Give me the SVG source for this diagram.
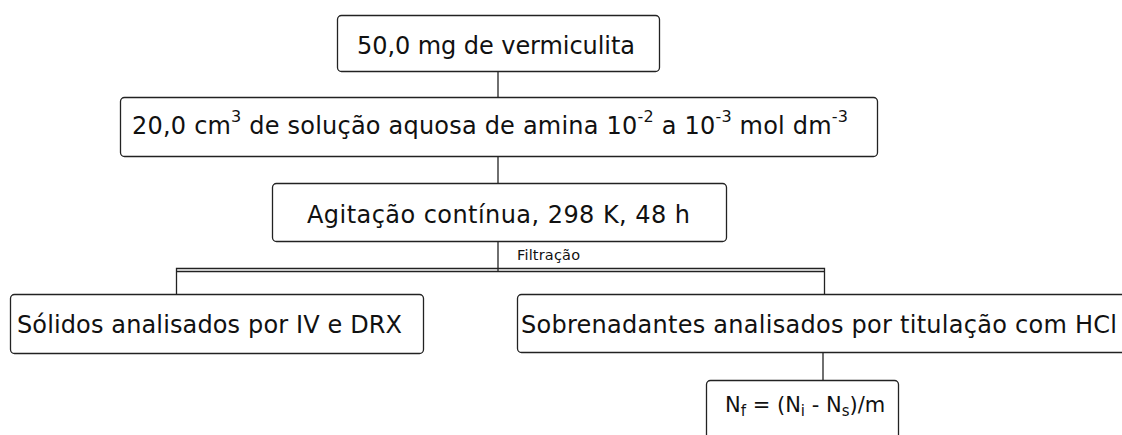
<svg xmlns="http://www.w3.org/2000/svg" width="1122" height="435" viewBox="0 0 1122 435">
<style>
.box{fill:#fff;stroke:#222;stroke-width:1.3}
.t{font-family:"DejaVu Sans",Verdana,sans-serif;font-size:24px;fill:#111}
.sm{font-family:"DejaVu Sans",Verdana,sans-serif;font-size:14.5px;fill:#111}
.nf{font-family:"DejaVu Sans",Verdana,sans-serif;font-size:21px;fill:#111}
.ln{stroke:#222;stroke-width:1.3;fill:none}
</style>
<rect width="1122" height="435" fill="#fff"/>
<g id="connectors">
<line class="ln" x1="498" y1="72" x2="498" y2="97"/>
<line class="ln" x1="498" y1="157" x2="498" y2="183"/>
<line class="ln" x1="498" y1="242" x2="498" y2="271"/>
<path class="ln" d="M176.5,294 V268.5 H824.5 V294"/>
<line class="ln" x1="176.5" y1="271.5" x2="824.5" y2="271.5"/>
<line class="ln" x1="823" y1="353" x2="823" y2="380"/>
<text class="sm" x="517" y="260" textLength="63" lengthAdjust="spacing">Filtração</text>
</g>
<g id="n1">
<rect class="box" x="337.5" y="15.5" width="322" height="56" rx="4"/>
<text class="t" x="357" y="54" textLength="278" lengthAdjust="spacing">50,0 mg de vermiculita</text>
</g>
<g id="n2">
<rect class="box" x="120.5" y="97.5" width="757" height="59" rx="4"/>
<text class="t" x="132" y="134" textLength="716" lengthAdjust="spacing">20,0 cm<tspan style="font-size:16px" dy="-12">3</tspan><tspan dy="12"> de solução aquosa de amina 10</tspan><tspan style="font-size:16px" dy="-12">-2</tspan><tspan dy="12"> a 10</tspan><tspan style="font-size:16px" dy="-12">-3</tspan><tspan dy="12"> mol dm</tspan><tspan style="font-size:16px" dy="-12">-3</tspan></text>
</g>
<g id="n3">
<rect class="box" x="272.5" y="183.5" width="454" height="58" rx="4"/>
<text class="t" x="307" y="223" textLength="383" lengthAdjust="spacing">Agitação contínua, 298 K, 48 h</text>
</g>
<g id="n4">
<rect class="box" x="10.5" y="294.5" width="413" height="59" rx="4"/>
<text class="t" x="17" y="333" textLength="385" lengthAdjust="spacing">Sólidos analisados por IV e DRX</text>
</g>
<g id="n5">
<rect class="box" x="517.5" y="294.5" width="610" height="58" rx="4"/>
<text class="t" x="521" y="333" textLength="596" lengthAdjust="spacing">Sobrenadantes analisados por titulação com HCl</text>
</g>
<g id="n6">
<rect class="box" x="706.5" y="380.5" width="192" height="70" rx="4"/>
<text class="nf" x="725" y="412">N<tspan style="font-size:15px" dy="4">f</tspan><tspan dy="-4"> = (N</tspan><tspan style="font-size:15px" dy="4">i</tspan><tspan dy="-4"> - N</tspan><tspan style="font-size:15px" dy="4">s</tspan><tspan dy="-4">)/m</tspan></text>
</g>
</svg>
